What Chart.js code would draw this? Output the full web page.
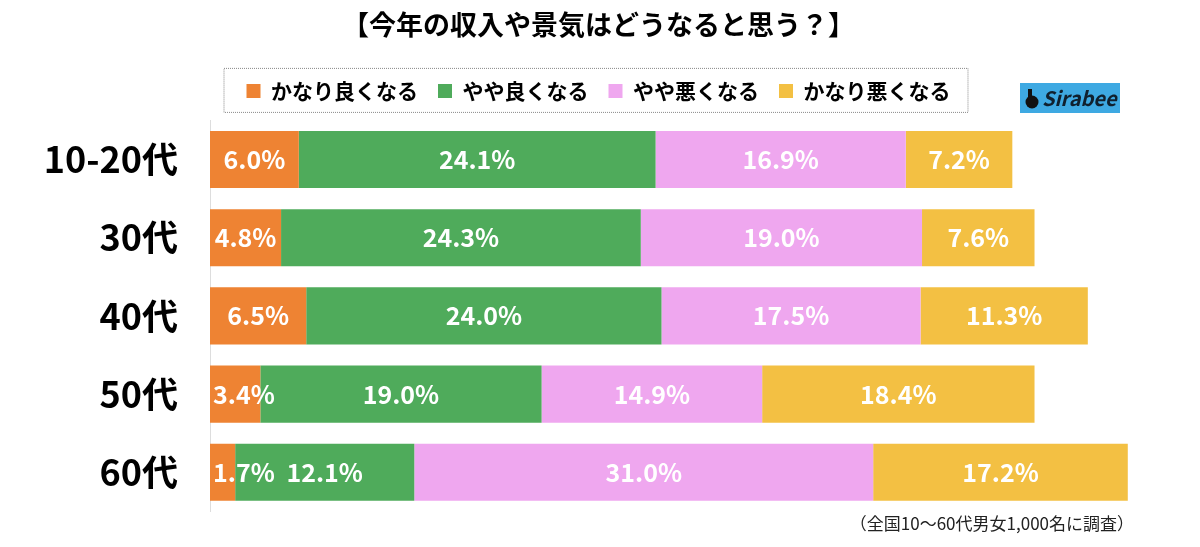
<!DOCTYPE html>
<html>
<head>
<meta charset="utf-8">
<script src="https://cdn.jsdelivr.net/npm/chart.js@4.4.0/dist/chart.umd.min.js"></script>
<style>
  html, body { margin: 0; padding: 0; background: #fff; }
  #wrap { width: 1200px; height: 547px; }
</style>
</head>
<body>
<div id="wrap"><canvas id="chart1" width="1200" height="547"></canvas></div>
<script>
'use strict'

var ages = ['10-20代', '30代', '40代', '50代', '60代'];
var names = ['かなり良くなる', 'やや良くなる', 'やや悪くなる', 'かなり悪くなる'];
var veryGood = [6.0, 4.8, 6.5, 3.4, 1.7];
var good = [24.1, 24.3, 24.0, 19.0, 12.1];
var bad = [16.9, 19.0, 17.5, 14.9, 31.0];
var veryBad = [7.2, 7.6, 11.3, 18.4, 17.2];
var colors = ['#EE8333', '#4FAB5B', '#EFA7EF', '#F3C043'];
var titleText = '【今年の収入や景気はどうなると思う？】';
var noteText = '（全国10～60代男女1,000名に調査）';

var font = '"Noto Sans CJK JP", "Noto Sans", sans-serif';

///////////////////////////////////////////////////////////////////

// legend needs a bit more room under it
var legendGap = {
  id: 'legendGap',
  afterInit: function (chart) {
    var lg = chart.legend;
    if (!lg) return;
    var fit = lg.fit;
    lg.fit = function () {
      fit.call(lg);
      lg.height += 9;
    };
  }
};

// white % labels inside the bars
var barLabels = {
  id: 'barLabels',
  afterDatasetsDraw: function (chart) {
    var ctx = chart.ctx;
    ctx.save();
    ctx.font = 'bold 25px ' + font;
    ctx.fillStyle = '#fff';
    ctx.textBaseline = 'middle';
    chart.data.datasets.forEach(function (ds, i) {
      var meta = chart.getDatasetMeta(i);
      meta.data.forEach(function (bar, j) {
        var txt = ds.data[j].toFixed(1) + '%';
        var w = ctx.measureText(txt).width;
        var left = Math.min(bar.x, bar.base);
        var right = Math.max(bar.x, bar.base);
        if (right - left < w + 4) {
          ctx.textAlign = 'left';
          ctx.fillText(txt, left + 3, bar.y);
        } else {
          ctx.textAlign = 'center';
          ctx.fillText(txt, (left + right) / 2, bar.y);
        }
      });
    });
    ctx.restore();
  }
};

// dotted frame round the legend, logo, footnote
var extras = {
  id: 'extras',
  afterDraw: function (chart) {
    var ctx = chart.ctx;
    var lg = chart.legend;
    ctx.save();
    if (lg && lg.legendHitBoxes.length) {
      var boxes = lg.legendHitBoxes;
      var l = boxes[0].left - 23;
      var r = boxes[boxes.length - 1].left + boxes[boxes.length - 1].width + 17;
      var cy = boxes[0].top + boxes[0].height / 2;
      ctx.strokeStyle = '#888';
      ctx.lineWidth = 1;
      ctx.setLineDash([1, 1]);
      ctx.strokeRect(l + 0.5, cy - 22.5, r - l, 44);
      ctx.setLineDash([]);
    }

    // Sirabee logo
    var area = chart.chartArea;
    var lx = 1020, ly = 83;
    ctx.fillStyle = '#3EA9E2';
    ctx.fillRect(lx, ly, 100, 30);
    ctx.fillStyle = '#111';
    ctx.beginPath();
    ctx.arc(lx + 12, ly + 19, 6.5, 0, Math.PI * 2);
    ctx.fill();
    ctx.fillRect(lx + 8, ly + 6, 4, 10);
    ctx.font = 'italic bold 20px ' + font;
    ctx.fillStyle = '#10202e';
    ctx.textAlign = 'left';
    ctx.textBaseline = 'middle';
    ctx.fillText('Sirabee', lx + 22, ly + 15);

    // footnote
    ctx.font = '17px ' + font;
    ctx.fillStyle = '#222';
    ctx.textAlign = 'right';
    ctx.fillText(noteText, 1134, area.bottom + 12);
    ctx.restore();
  }
};

///////////////////////////////////////////////////////////////////

function makeChart() {
  var ctx = document.getElementById('chart1').getContext('2d');
  var series = [veryGood, good, bad, veryBad];
  var datasets = [];
  for (var i = 0; i < series.length; i++) {
    datasets.push({
      label: names[i],
      data: series[i],
      backgroundColor: colors[i],
      borderWidth: 0,
      barPercentage: 0.73,
      categoryPercentage: 1
    });
  }
  new Chart(ctx, {
    type: 'bar',
    data: { labels: ages, datasets: datasets },
    plugins: [legendGap, barLabels, extras],
    options: {
      indexAxis: 'y',
      responsive: false,
      animation: false,
      layout: { autoPadding: false, padding: { left: 10, right: 13, top: 0, bottom: 27 } },
      scales: {
        x: { stacked: true, display: false, min: 0, max: 66 },
        y: {
          stacked: true,
          grid: { display: false, drawTicks: false },
          border: { display: true, color: '#ddd' },
          ticks: {
            color: '#000',
            padding: 32,
            font: { family: font, size: 36, weight: 'bold', lineHeight: 0.2 }
          },
          afterFit: function (s) { s.width = 200; }
        }
      },
      plugins: {
        title: {
          display: true,
          text: titleText,
          color: '#000',
          font: { family: font, size: 27, weight: 'bold' },
          padding: { top: 9, bottom: 19 }
        },
        legend: {
          position: 'top',
          labels: {
            color: '#000',
            boxWidth: 14,
            boxHeight: 14,
            padding: 20,
            font: { family: font, size: 21, weight: 'bold' }
          }
        },
        tooltip: { enabled: false }
      }
    }
  });
}

makeChart();
</script>
</body>
</html>
